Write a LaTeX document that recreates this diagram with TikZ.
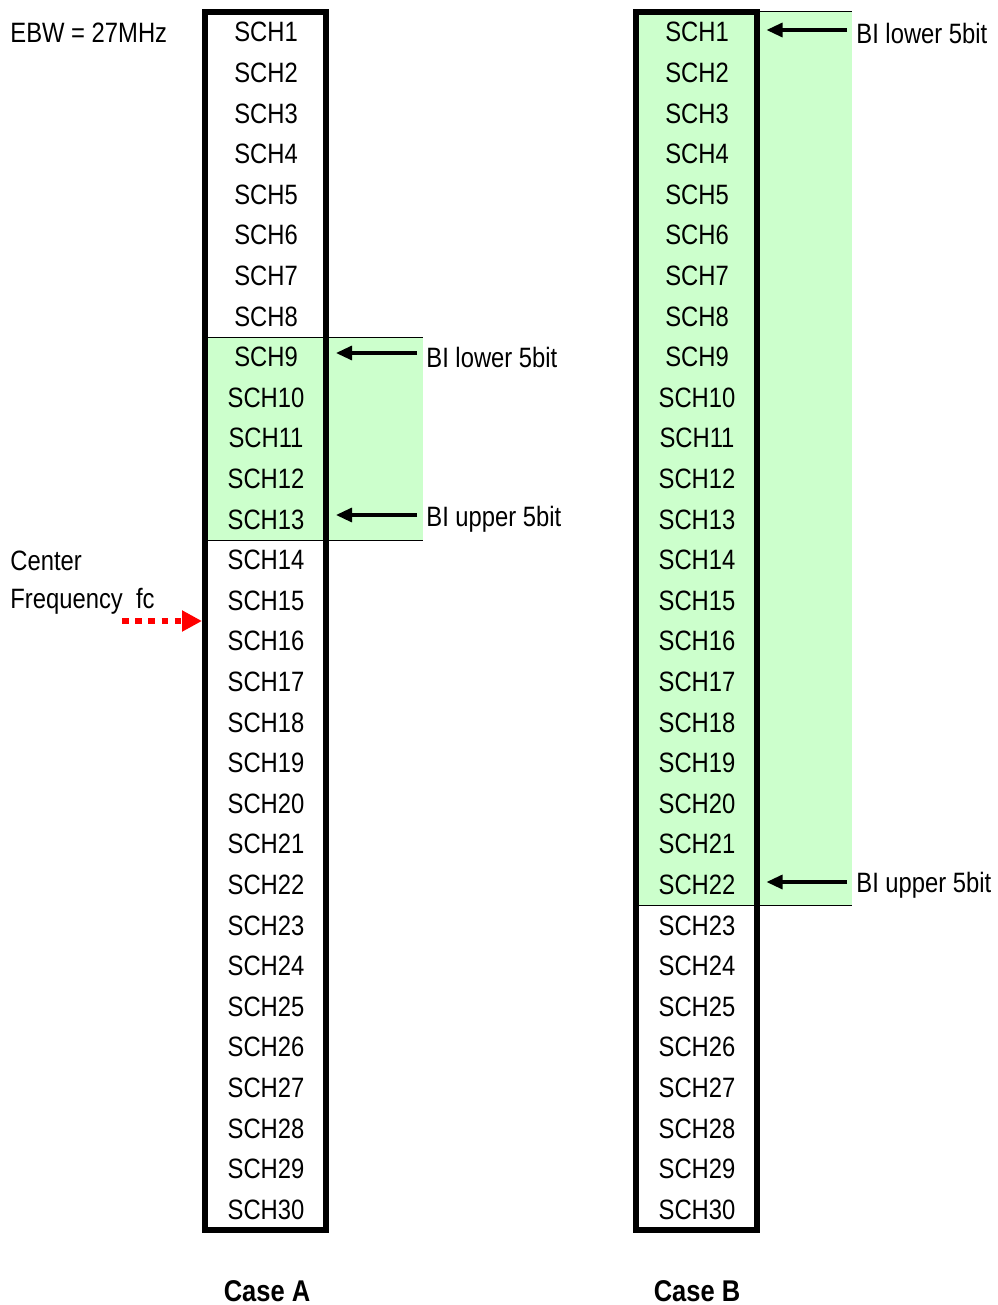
\documentclass[tikz,border=0pt]{standalone}
\usepackage{fontspec}
\setmainfont{Liberation Sans}[FakeStretch=0.85]
\usetikzlibrary{positioning, arrows.meta}

\definecolor{bigreen}{HTML}{CCFFCC}

\begin{document}
\begin{tikzpicture}[
  x=0.5pt, y=-0.5pt,
  font=\fontsize{14}{16}\selectfont,
  chbox/.style={draw, line width=3pt, inner sep=0pt, minimum width=60.5pt,
                minimum height=609pt},
  sch/.style={inner sep=0pt},
  lbl/.style={anchor=west, inner sep=0pt},
  bi/.style={anchor=west, inner sep=0pt},
  casecap/.style={font=\fontsize{15}{17}\selectfont\bfseries},
  band/.style={fill=bigreen, draw=none},
  bandline/.style={line width=0.5pt},
  link/.style={-{Triangle[length=8pt, width=7pt]}, line width=1.6pt,
               shorten >=3.5pt, shorten <=4.5pt},
  fcline/.style={-{Triangle[length=10pt, width=10pt]}, line width=3pt,
                 draw=red, dash pattern=on 3.3pt off 3.3pt},
]

\useasboundingbox (0,0) rectangle (997,1305);

% BI ranges
\fill[band] (205,337) rectangle (423,540);
\draw[bandline] (205,337) -- (423,337);
\draw[bandline] (205,540) -- (423,540);

\fill[band] (635,12) rectangle (852,905);
\draw[bandline] (635,12) -- (852,12);
\draw[bandline] (635,905) -- (852,905);

% sub-channel columns
\node[chbox] (boxA) at (265.5,621) {};
\node[chbox] (boxB) at (696,621) {};

\foreach \i in {1,...,30} {
  \node[sch] (a\i) at (266, {12+(\i-0.5)*40.6}) {SCH\i};
  \node[sch] (b\i) at (697, {12+(\i-0.5)*40.6}) {SCH\i};
}

% left labels
\node[lbl] (ebw) at (10,33) {EBW = 27MHz};
\node[lbl] (ctr) at (10,561) {Center};
\node[lbl] (freq) at (10,601) {Frequency\ \ fc};
\coordinate (fcstart) at (122,621);

% BI labels
\node[bi] (loA) at (426,357) {BI lower 5bit};
\node[bi] (upA) at (426,519) {BI upper 5bit};
\node[bi] (loB) at (856,33) {BI lower 5bit};
\node[bi] (upB) at (856,885) {BI upper 5bit};

\node[casecap] (capA) at (267,1291) {Case A};
\node[casecap] (capB) at (697,1291) {Case B};

\draw[fcline] (fcstart) -- (boxA.west |- fcstart);
\draw[link] ([yshift=2pt]loA.west) -- ([yshift=2pt]loA.west -| boxA.east);
\draw[link] ([yshift=2pt]upA.west) -- ([yshift=2pt]upA.west -| boxA.east);
\draw[link] ([yshift=1.5pt]loB.west) -- ([yshift=1.5pt]loB.west -| boxB.east);
\draw[link] ([yshift=1.5pt]upB.west) -- ([yshift=1.5pt]upB.west -| boxB.east);

\end{tikzpicture}
\end{document}
